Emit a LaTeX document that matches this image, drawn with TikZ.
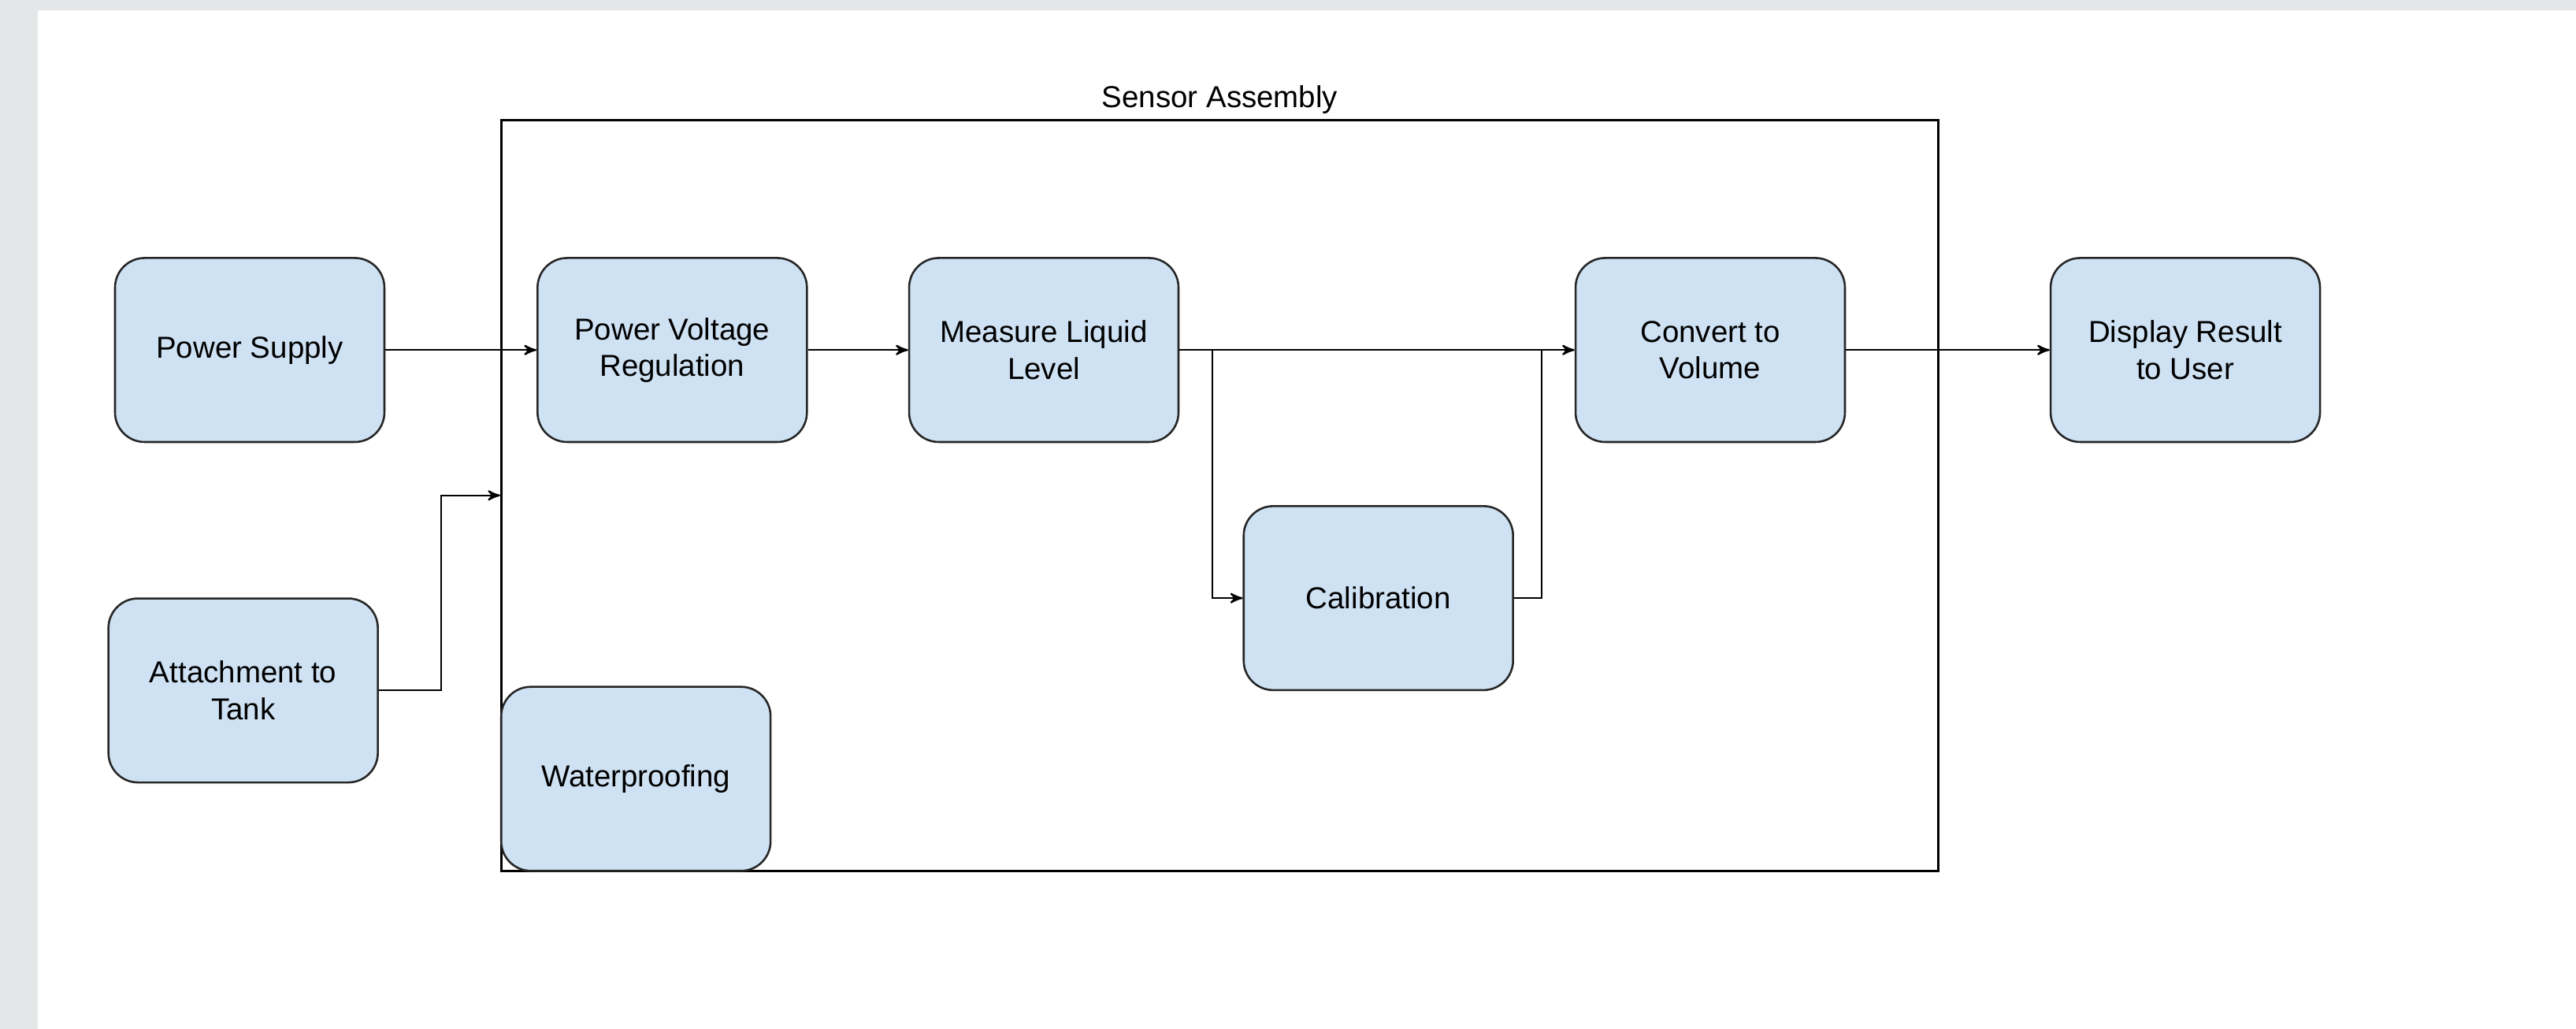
\documentclass[tikz,border=0pt]{standalone}
\usepackage{fontspec}
\setmainfont{Liberation Sans}
\usetikzlibrary{
        arrows,
        positioning
    }
\definecolor{boxblue}{RGB}{207,226,243}
\definecolor{pagegray}{RGB}{227,231,232}
\tikzset{>=stealth',auto}

\begin{document}
\begin{tikzpicture}[x=0.02cm,y=-0.02cm,font=\fontsize{10.5}{12.6}\selectfont]
                \tikzset{block/.style={draw=black!85,fill=boxblue,line width=0.7pt,rounded corners=0.36cm,
                    minimum width=3.28cm,minimum height=2.24cm,align=center}}
                \tikzset{wire/.style={line width=0.6pt}}
                \fill[pagegray] (0,0) rectangle (1568,626);
                \fill[white] (23,6) rectangle (1568,626);
                \node[draw,line width=0.7pt,minimum width=17.5cm,minimum height=9.14cm] (sensor) at (742.5,301.5) {};
                \node (title) [above=-0.06cm of sensor.north] {Sensor Assembly};
                \node[block] (ps) at (152,213) {Power Supply};
                \node[block] (att) [below=1.88cm of ps,xshift=-0.08cm] {Attachment to\\Tank};
                \node[block] (pvr) [right=1.84cm of ps] {Power Voltage\\Regulation};
                \node[block] (mll) [right=1.22cm of pvr] {Measure Liquid\\Level};
                \node[block] (ctv) [right=4.81cm of mll] {Convert to\\Volume};
                \node[block] (disp) [right=2.48cm of ctv] {Display Result\\to User};
                \node[block] (cal) at (839,364) {Calibration};
                \node[block,anchor=south west] (wp) at (sensor.south west) {Waterproofing};
                \draw[wire,->] (ps) -- (pvr);
                \draw[wire,->] (pvr) -- (mll);
                \draw[wire,->] (mll) -- (ctv);
                \draw[wire,->] (ctv) -- (disp);
                \draw[wire,->] (att.east) -- ++(38,0) |- (sensor.west);
                \draw[wire,->] ([xshift=0.4cm]mll.east) |- (cal.west);
                \draw[wire] (cal.east) -| ([xshift=-0.4cm]ctv.west);
            \end{tikzpicture}
\end{document}
